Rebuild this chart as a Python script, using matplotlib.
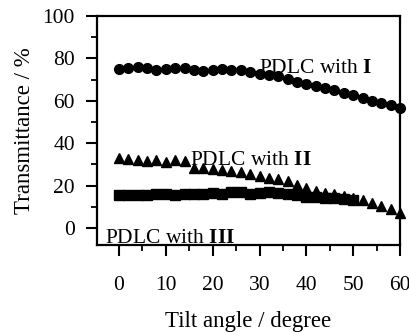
import numpy as np
import matplotlib
matplotlib.use('Agg')
import matplotlib.pyplot as plt
from matplotlib.ticker import MultipleLocator

plt.rcParams['font.family'] = 'Liberation Serif'
plt.rcParams['mathtext.fontset'] = 'custom'
plt.rcParams['mathtext.rm'] = 'Liberation Serif'
plt.rcParams['mathtext.bf'] = 'Liberation Serif:bold'

# Tilt angle (degree)
angle = [0, 2, 4, 6, 8, 10, 12, 14, 16, 18, 20, 22, 24, 26, 28, 30,
         32, 34, 36, 38, 40, 42, 44, 46, 48, 50, 52, 54, 56, 58, 60]
angle_III = angle[:26]

# Transmittance (%)
trans_I = [75, 75.5, 76, 75.5, 74.5, 75, 75.5, 75.5, 74.5, 74, 74.5, 75, 74.5,
           74.5, 73.5, 72.5, 72, 71.5, 70.5, 69, 68, 67, 66, 65, 63.5, 62.5,
           61.5, 60, 59, 58, 56.5]
trans_II = [33, 32.5, 32, 31.5, 32, 31, 32, 31.5, 28.5, 28.5, 28, 27.5, 27,
            26.5, 25.5, 24.5, 23.5, 23, 22, 20.5, 19, 17.5, 16.5, 16, 15, 14,
            13, 12, 10.5, 9, 7]
trans_III = [15.5, 15.5, 15.5, 15.5, 16, 16, 15.5, 16, 16, 16, 16.5, 16, 17,
             17, 16, 16.5, 17, 16.5, 16, 15.5, 14.5, 14.5, 14, 14, 13.5, 13]

fig = plt.figure(figsize=(4.10, 3.32), dpi=100)
ax = fig.add_axes([0.2366, 0.262, 0.739, 0.690])

ax.plot(angle, trans_I, 'o', color='k', ms=7, clip_on=False)
ax.plot(angle, trans_II, '^', color='k', ms=7.5, clip_on=False)
ax.plot(angle_III, trans_III, 's', color='k', ms=6.5, clip_on=False)

ax.text(42, 75, r'PDLC with $\mathbf{I}$', fontsize=15.5, ha='center', va='center')
ax.text(28.2, 32, r'PDLC with $\mathbf{II}$', fontsize=15.5, ha='center', va='center')
ax.text(10.9, -5, r'PDLC with $\mathbf{III}$', fontsize=15.5, ha='center', va='center')

ax.set_xlim(-4.7, 60)
ax.set_ylim(-8, 100)
ax.xaxis.set_major_locator(MultipleLocator(10))
ax.xaxis.set_minor_locator(MultipleLocator(5))
ax.yaxis.set_major_locator(MultipleLocator(20))
ax.yaxis.set_minor_locator(MultipleLocator(10))
ax.tick_params(which='major', direction='out', length=8, width=1.5, labelsize=15.5)
ax.tick_params(axis='x', which='major', pad=14)
ax.tick_params(axis='y', which='major', pad=8)
ax.tick_params(which='minor', direction='out', length=4.5, width=1.3)
for s in ax.spines.values():
    s.set_linewidth(1.6)

ax.set_xlabel('Tilt angle / degree', fontsize=16.5, labelpad=12)
ax.set_ylabel('Transmittance / %', fontsize=16.5, labelpad=5)

fig.savefig('out.png', dpi=100)
